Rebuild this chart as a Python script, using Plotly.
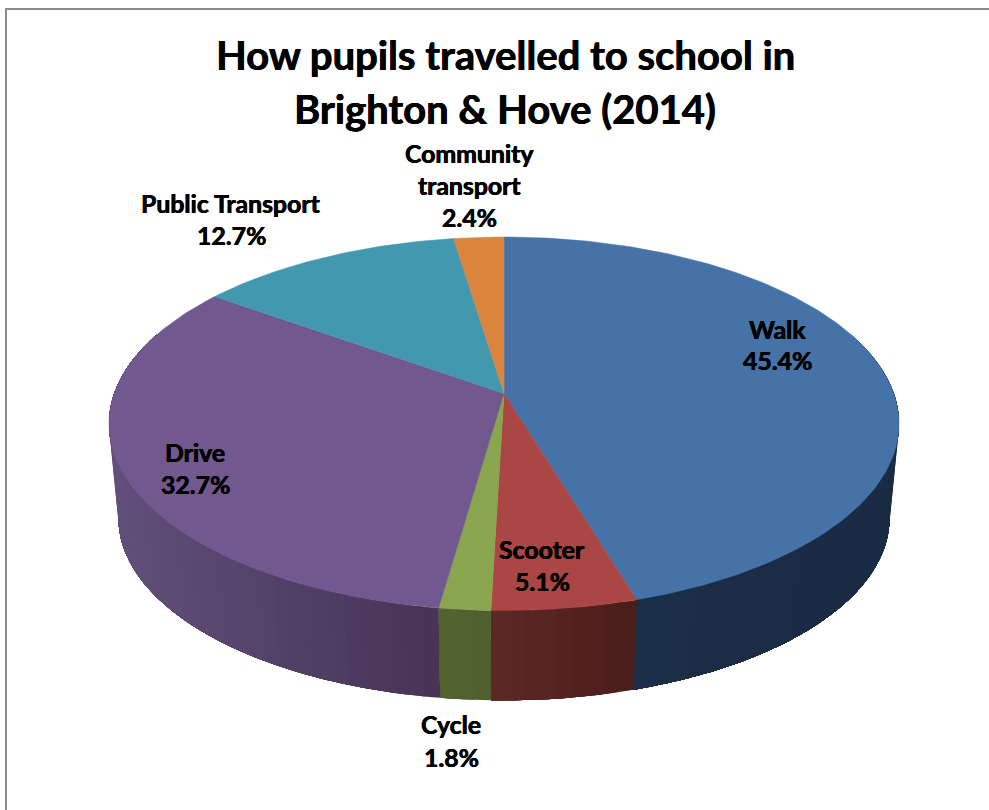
import numpy as np
import plotly.graph_objects as go

# Travel-mode shares in percent, clockwise from twelve o'clock
modes = ["Walk", "Scooter", "Cycle", "Drive", "Public Transport", "Community transport"]
shares = [45.4, 5.1, 1.8, 32.7, 12.7, 2.4]
top_colors = ["#4572A7", "#AA4643", "#89A54E", "#71588F", "#4198AF", "#DB843D"]
# Wall shade of each slice at its left and right end
wall_left = ["#1B2E47", "#5E2825", "#526530", "#5E4B75", "#2A5A68", "#85502A"]
wall_right = ["#1A2C44", "#4A1D1A", "#4E5F2E", "#463355", "#2A5A68", "#85502A"]

title_lines = ["How pupils travelled to school in", "Brighton & Hove (2014)"]

# Screen geometry of the tilted disc (axes are in page pixels)
CX, APEX_Y = 504.0, 393.5
ELLIPSE_Y = 423.75
DEPTH_Y, DEPTH_SCALE = 94.3, 0.976
TILT, RADIUS_X, RADIUS_Y = 0.1620, 389.8, 181.85


def rim(theta):
    """Project an angle on the disc edge (clockwise from the back) to the screen."""
    u, v = np.sin(theta), np.cos(theta)
    w = 1 + TILT * v
    return CX + RADIUS_X * u / w, APEX_Y - RADIUS_Y * v / w


def floor(x, y):
    """Matching point on the lower edge of the disc wall."""
    return CX + DEPTH_SCALE * (x - CX), ELLIPSE_Y + DEPTH_Y + DEPTH_SCALE * (y - ELLIPSE_Y)


def lerp_color(a, b, t):
    ca = [int(a[i:i + 2], 16) for i in (1, 3, 5)]
    cb = [int(b[i:i + 2], 16) for i in (1, 3, 5)]
    return "#" + "".join(f"{round(p + (q - p) * t):02x}" for p, q in zip(ca, cb))


edges = np.concatenate([[0], np.cumsum(shares)]) / np.sum(shares) * 2 * np.pi
fig = go.Figure()

# Walls first. Each band runs from its own angle to the far end of the slice, so
# the next band paints over it and no seams open up between neighbouring shades.
for i in range(len(shares)):
    lo, hi = max(edges[i], np.radians(70)), min(edges[i + 1], np.radians(290))
    if lo >= hi:
        continue
    steps = max(2, int(np.degrees(hi - lo) / 2))
    angles = np.linspace(lo, hi, steps + 1)
    xs, _ = rim(angles)
    span = xs[-1] - xs[0]
    for j in range(steps):
        a = np.linspace(angles[j], hi, max(3, 2 * (steps - j) + 1))
        xt, yt = rim(a)
        xb, yb = floor(xt, yt)
        t = ((xs[j] + xs[j + 1]) / 2 - xs[0]) / span
        color = lerp_color(wall_right[i], wall_left[i], t)
        fig.add_trace(go.Scatter(
            x=np.concatenate([xt, xb[::-1]]), y=np.concatenate([yt, yb[::-1]]),
            mode="none", fill="toself", fillcolor=color,
            hoverinfo="skip", showlegend=False,
        ))

# Upper face of each slice
for i, name in enumerate(modes):
    a = np.linspace(edges[i], edges[i + 1], max(3, int(np.degrees(edges[i + 1] - edges[i]))))
    xr, yr = rim(a)
    fig.add_trace(go.Scatter(
        x=np.concatenate([[CX], xr, [CX]]), y=np.concatenate([[APEX_Y], yr, [APEX_Y]]),
        mode="lines", fill="toself", fillcolor=top_colors[i],
        line=dict(color=top_colors[i], width=0.5), name=name,
        hovertemplate=f"{name}: {shares[i]}%<extra></extra>", showlegend=False,
    ))

# Slice captions: one entry per text line, placed by hand around the disc
caption_lines = {
    "Walk": [(777, 329, "Walk"), (777, 360, "45.4%")],
    "Scooter": [(542, 549, "Scooter"), (542, 581, "5.1%")],
    "Cycle": [(451, 724, "Cycle"), (451, 757, "1.8%")],
    "Drive": [(195, 452, "Drive"), (195, 484, "32.7%")],
    "Public Transport": [(231, 203, "Public Transport"), (231, 235, "12.7%")],
    "Community transport": [(469, 153, "Community"), (469, 185, "transport"), (469, 217, "2.4%")],
}
# A hairline sideways shadow gives the bold face a little more weight
heavier = "0.35px 0 0 #000, -0.35px 0 0 #000"
annotations = []
for lines in caption_lines.values():
    for x, y, text in lines:
        annotations.append(dict(
            x=x, y=y, text=text, showarrow=False, xanchor="center", yanchor="middle",
            font=dict(family="Lato", size=24.8, color="#000000", weight="bold", shadow=heavier),
        ))
for y, text in zip((55, 109), title_lines):
    annotations.append(dict(
        x=505, y=y, text=text, showarrow=False, xanchor="center", yanchor="middle",
        font=dict(family="Lato", size=40, color="#000000", weight="bold", shadow=heavier),
    ))

# Chart-area frame, cut off by the page on the right and bottom
frame = dict(type="line", xref="x", yref="y", line=dict(color="#8C8C8C", width=2), layer="below")
shapes = [
    dict(frame, x0=5.5, y0=9, x1=989, y1=9),
    dict(frame, x0=6, y0=8, x1=6, y1=810),
]

fig.update_layout(
    width=989, height=810, autosize=False,
    margin=dict(l=0, r=0, t=0, b=0, pad=0),
    paper_bgcolor="#FFFFFF", plot_bgcolor="#FFFFFF",
    xaxis=dict(range=[0, 989], visible=False, fixedrange=True),
    yaxis=dict(range=[810, 0], visible=False, fixedrange=True),
    annotations=annotations, shapes=shapes, showlegend=False,
)
fig.write_html("out.html", config=dict(displayModeBar=False))
